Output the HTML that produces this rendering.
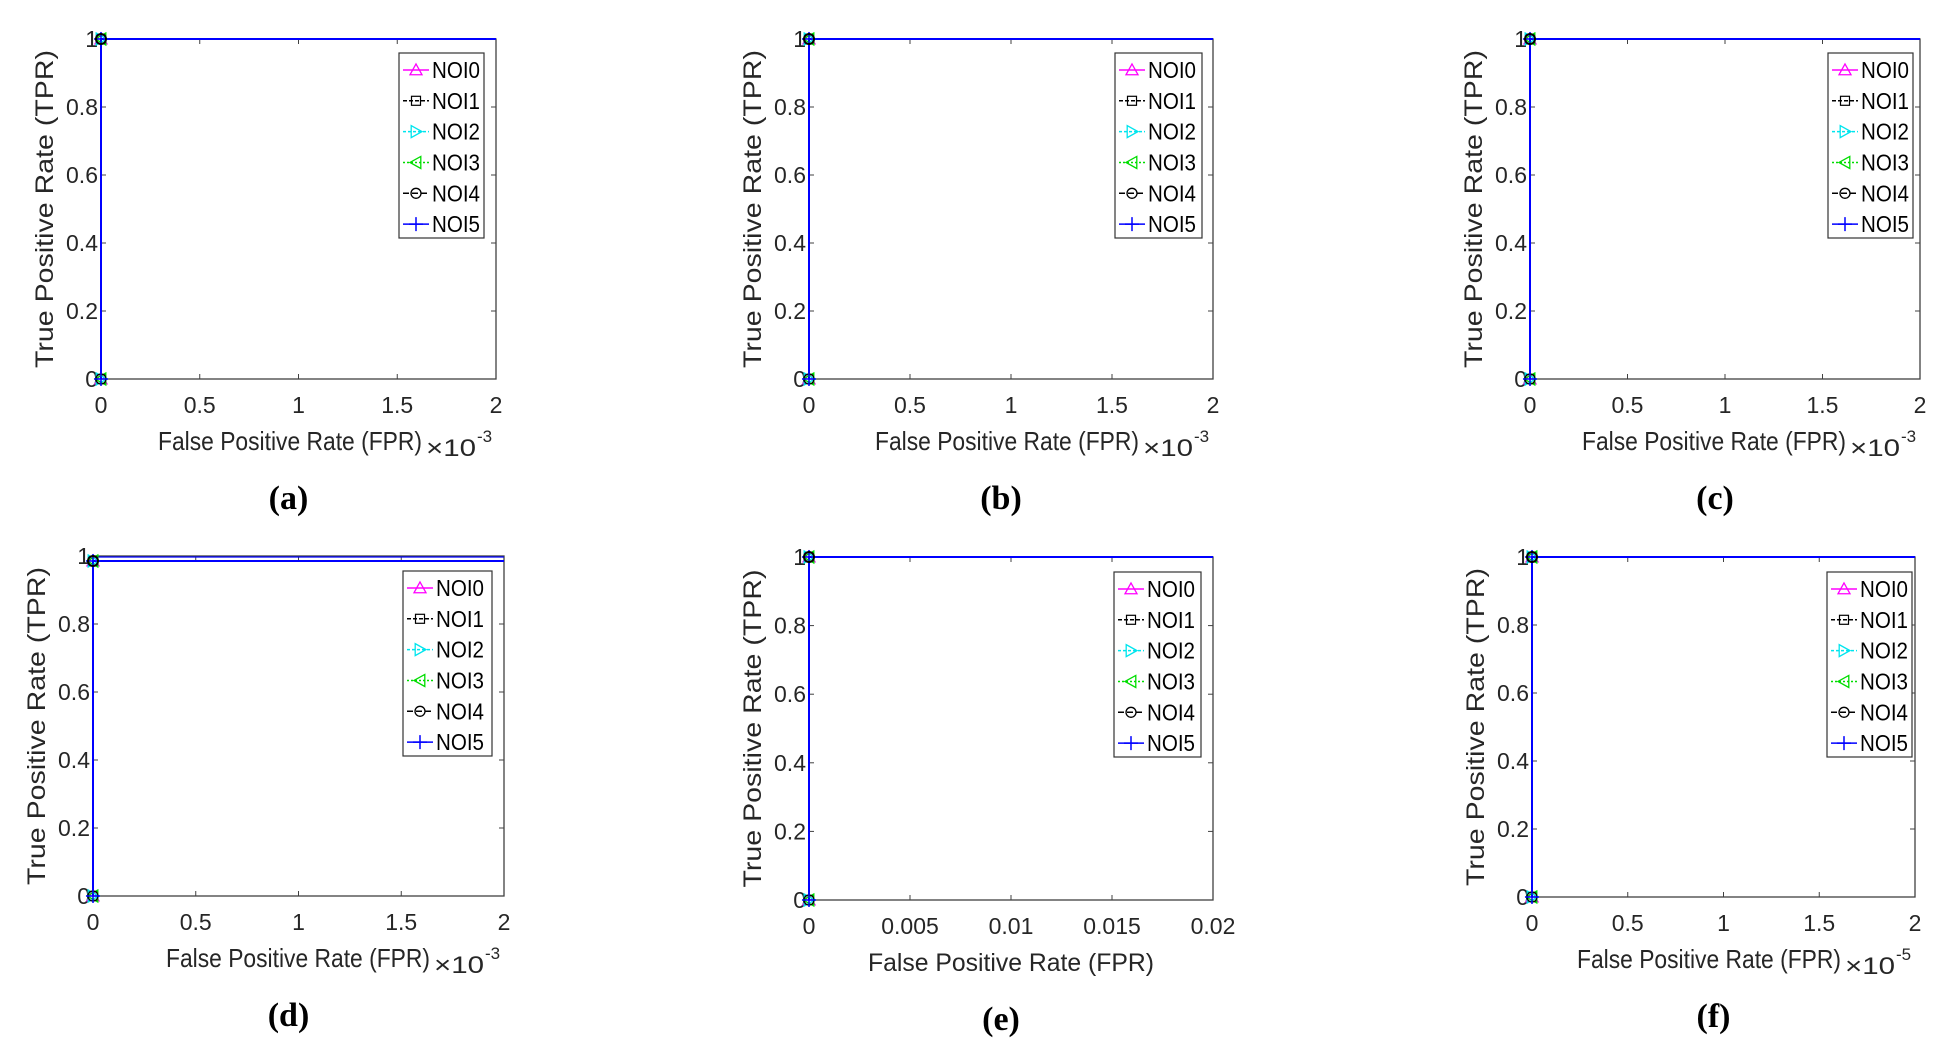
<!DOCTYPE html>
<html><head><meta charset="utf-8"><style>
html,body{margin:0;padding:0;background:#fff;}
svg{display:block;}
text{font-family:"Liberation Sans",Arial,sans-serif;fill:#262626;}
</style></head><body>
<svg id="s" width="1943" height="1055" xmlns="http://www.w3.org/2000/svg"></svg>
<script>
var NS="http://www.w3.org/2000/svg",S=document.getElementById('s');
function el(t,a,txt){var e=document.createElementNS(NS,t);for(var k in a)e.setAttribute(k,a[k]);if(txt!==undefined)e.textContent=txt;S.appendChild(e);return e;}
var panels=[
 {l:101,r:496,t:39,b:379,ticks:['0','0.5','1','1.5','2'],exp:'-3',lab:'(a)',leg:[399,484,53,238],y1:39},
 {l:809,r:1213,t:39,b:379,ticks:['0','0.5','1','1.5','2'],exp:'-3',lab:'(b)',leg:[1115,1202,53,238],y1:39},
 {l:1530,r:1920,t:39,b:379,ticks:['0','0.5','1','1.5','2'],exp:'-3',lab:'(c)',leg:[1828,1913,53,238],y1:39},
 {l:93,r:504,t:556,b:896,ticks:['0','0.5','1','1.5','2'],exp:'-3',lab:'(d)',leg:[403,492,571,756],y1:561},
 {l:809,r:1213,t:557,b:900,ticks:['0','0.005','0.01','0.015','0.02'],exp:null,lab:'(e)',leg:[1114,1201,572,757],y1:557},
 {l:1532,r:1915,t:557,b:897,ticks:['0','0.5','1','1.5','2'],exp:'-5',lab:'(f)',leg:[1827,1912,572,757],y1:557}
];
var ser=[['#ff00ff','none','tri'],['#000','4,2','sq'],['#00e5ee','3,2','tr'],['#00dd00','2,2','tl'],['#000','6,3','ci'],['#0000ff','none','pl']];
function marker(m,x,y,c){
 var s=6;
 if(m=='tri')el('polygon',{points:(x)+','+(y-s)+' '+(x-s)+','+(y+s*0.8)+' '+(x+s)+','+(y+s*0.8),fill:'none',stroke:c,'stroke-width':1.3});
 if(m=='sq')el('rect',{x:x-4.5,y:y-4.5,width:9,height:9,fill:'none',stroke:c,'stroke-width':1.2});
 if(m=='tr')el('polygon',{points:(x+s)+','+y+' '+(x-s*0.8)+','+(y-s)+' '+(x-s*0.8)+','+(y+s),fill:'none',stroke:c,'stroke-width':1.3});
 if(m=='tl')el('polygon',{points:(x-s)+','+y+' '+(x+s*0.8)+','+(y-s)+' '+(x+s*0.8)+','+(y+s),fill:'none',stroke:c,'stroke-width':1.3});
 if(m=='ci')el('circle',{cx:x,cy:y,r:5,fill:'none',stroke:c,'stroke-width':1.3});
 if(m=='pl'){el('line',{x1:x-7,y1:y,x2:x+7,y2:y,stroke:c,'stroke-width':1.5});el('line',{x1:x,y1:y-7,x2:x,y2:y+7,stroke:c,'stroke-width':1.5});}
}
panels.forEach(function(p){
 var w=p.r-p.l,h=p.b-p.t,cx=(p.l+p.r)/2;
 el('rect',{x:p.l,y:p.t,width:w,height:h,fill:'#fff',stroke:'#404040','stroke-width':1.3});
 for(var i=0;i<5;i++){var x=p.l+w*i/4;
  el('line',{x1:x,y1:p.b,x2:x,y2:p.b-5,stroke:'#404040','stroke-width':1});
  el('line',{x1:x,y1:p.t,x2:x,y2:p.t+5,stroke:'#404040','stroke-width':1});
  el('text',{x:x,y:p.b+34,'font-size':23,'text-anchor':'middle'},p.ticks[i]);}
 var yl=['0','0.2','0.4','0.6','0.8','1'];
 for(var j=0;j<6;j++){var y=p.b-h*j/5;
  el('line',{x1:p.l,y1:y,x2:p.l+5,y2:y,stroke:'#404040','stroke-width':1});
  el('line',{x1:p.r,y1:y,x2:p.r-5,y2:y,stroke:'#404040','stroke-width':1});
  el('text',{x:p.l-3,y:y+8,'font-size':23,'text-anchor':'end'},yl[j]);}
 var yc=(p.t+p.b)/2,yx=p.l-48;
 el('text',{x:0,y:0,'font-size':25,'text-anchor':'middle',textLength:318,lengthAdjust:'spacingAndGlyphs',transform:'translate('+yx+','+yc+') rotate(-90)'},'True Positive Rate (TPR)');
 if(p.exp){
  el('text',{x:p.r-338,y:p.b+71,'font-size':26,textLength:264,lengthAdjust:'spacingAndGlyphs'},'False Positive Rate (FPR)');
  el('text',{x:p.r-70,y:p.b+77,'font-size':24,textLength:50,lengthAdjust:'spacingAndGlyphs'},'\u00d710');
  el('text',{x:p.r-19,y:p.b+63,'font-size':17},p.exp);
 } else {
  el('text',{x:cx,y:p.b+71,'font-size':25,'text-anchor':'middle',textLength:286,lengthAdjust:'spacingAndGlyphs'},'False Positive Rate (FPR)');
 }
 el('text',{x:cx-10,y:p.b+130,'font-size':34,'font-weight':'bold','text-anchor':'middle',style:'font-family:"Liberation Serif",serif;fill:#000'},p.lab);
 el('polyline',{points:p.l+','+p.b+' '+p.l+','+p.y1+' '+p.r+','+p.y1,fill:'none',stroke:'#0000ff','stroke-width':2});
 if(p.y1!=p.t) el('line',{x1:p.l,y1:p.t+1,x2:p.r,y2:p.t+1,stroke:'#0000ff','stroke-width':1.2});
 ser.forEach(function(s){marker(s[2],p.l,p.b,s[0]);marker(s[2],p.l,p.y1,s[0]);});
 el('circle',{cx:p.l,cy:p.y1,r:5,fill:'none',stroke:'#000','stroke-width':2});
 var L=p.leg;
 el('rect',{x:L[0],y:L[2],width:L[1]-L[0],height:L[3]-L[2],fill:'#fff',stroke:'#333','stroke-width':1.2});
 var rh=(L[3]-L[2])/6;
 ser.forEach(function(s,k){var y=L[2]+rh*(k+0.55);
  el('line',{x1:L[0]+4,y1:y,x2:L[0]+30,y2:y,stroke:s[0],'stroke-width':1.5,'stroke-dasharray':s[1]});
  marker(s[2],L[0]+17,y,s[0]);
  el('text',{x:L[0]+33,y:y+8,'font-size':23,textLength:48,lengthAdjust:'spacingAndGlyphs',style:'fill:#000'},'NOI'+k);
 });
});
</script>
</body></html>
